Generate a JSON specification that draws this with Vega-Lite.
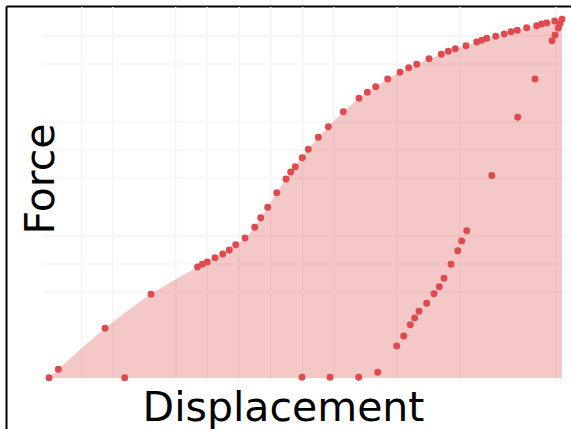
{
  "$schema": "https://vega.github.io/schema/vega-lite/v6.json",
  "width": 565,
  "height": 423,
  "autosize": {"type": "none"},
  "padding": {"left": 6, "top": 6, "right": 0, "bottom": 0},
  "background": "white",
  "config": {"view": {"stroke": null}, "font": "DejaVu Sans"},
  "datasets": {
    "vgrid": [{"d": 32.7}, {"d": 63.7}, {"d": 126.7}, {"d": 158}, {"d": 190.3}, {"d": 221.7}, {"d": 253.7}, {"d": 284.7}, {"d": 348}, {"d": 411}, {"d": 507}],
    "hgrid": [{"f": 342.3}, {"f": 314}, {"f": 256}, {"f": 228}, {"f": 200}, {"f": 142.3}, {"f": 114}, {"f": 86}],
    "pts": [
      {"path": "loading", "d": 0, "f": 0.3},
      {"path": "loading", "d": 9.3, "f": 8.7},
      {"path": "loading", "d": 56, "f": 49.7},
      {"path": "loading", "d": 102, "f": 83.7},
      {"path": "loading", "d": 148.5, "f": 111},
      {"path": "loading", "d": 153.3, "f": 113.7},
      {"path": "loading", "d": 158.3, "f": 116},
      {"path": "loading", "d": 166, "f": 120.3},
      {"path": "loading", "d": 173.7, "f": 124},
      {"path": "loading", "d": 180.3, "f": 128},
      {"path": "loading", "d": 186.7, "f": 133.3},
      {"path": "loading", "d": 196, "f": 140},
      {"path": "loading", "d": 205.7, "f": 150.7},
      {"path": "loading", "d": 211.7, "f": 160.3},
      {"path": "loading", "d": 218.7, "f": 170.7},
      {"path": "loading", "d": 227.7, "f": 185.3},
      {"path": "loading", "d": 237, "f": 199},
      {"path": "loading", "d": 241.7, "f": 206},
      {"path": "loading", "d": 246.3, "f": 211.3},
      {"path": "loading", "d": 253.3, "f": 220.3},
      {"path": "loading", "d": 259.3, "f": 228.7},
      {"path": "loading", "d": 269.3, "f": 240.7},
      {"path": "loading", "d": 279.3, "f": 251.3},
      {"path": "loading", "d": 294.3, "f": 266.3},
      {"path": "loading", "d": 310, "f": 279.7},
      {"path": "loading", "d": 318.3, "f": 285.7},
      {"path": "loading", "d": 326.7, "f": 291.3},
      {"path": "loading", "d": 338.7, "f": 299},
      {"path": "loading", "d": 351, "f": 305.7},
      {"path": "loading", "d": 359.7, "f": 310.3},
      {"path": "loading", "d": 367.7, "f": 313.7},
      {"path": "loading", "d": 380, "f": 319.3},
      {"path": "loading", "d": 392.3, "f": 323.7},
      {"path": "loading", "d": 399.3, "f": 326.7},
      {"path": "loading", "d": 406.3, "f": 329.3},
      {"path": "loading", "d": 417, "f": 332.3},
      {"path": "loading", "d": 427.7, "f": 336},
      {"path": "loading", "d": 432.7, "f": 337.7},
      {"path": "loading", "d": 437.7, "f": 339.7},
      {"path": "loading", "d": 446.7, "f": 341.7},
      {"path": "loading", "d": 455.3, "f": 344},
      {"path": "loading", "d": 462, "f": 346.3},
      {"path": "loading", "d": 468.3, "f": 347.7},
      {"path": "loading", "d": 477.7, "f": 350.3},
      {"path": "loading", "d": 487.7, "f": 352.3},
      {"path": "loading", "d": 492.7, "f": 354},
      {"path": "loading", "d": 497.7, "f": 355},
      {"path": "loading", "d": 505.7, "f": 357},
      {"path": "loading", "d": 513, "f": 358.7},
      {"path": "unloading", "d": 511, "f": 354.3},
      {"path": "unloading", "d": 509.3, "f": 350},
      {"path": "unloading", "d": 506, "f": 343},
      {"path": "unloading", "d": 503, "f": 337.3},
      {"path": "unloading", "d": 486, "f": 299},
      {"path": "unloading", "d": 468.7, "f": 260.7},
      {"path": "unloading", "d": 442.8, "f": 202.5},
      {"path": "unloading", "d": 417.7, "f": 147.3},
      {"path": "unloading", "d": 412.7, "f": 137},
      {"path": "unloading", "d": 408.7, "f": 127.3},
      {"path": "unloading", "d": 402, "f": 113.7},
      {"path": "unloading", "d": 395, "f": 99.7},
      {"path": "unloading", "d": 390.3, "f": 91.3},
      {"path": "unloading", "d": 385, "f": 84.3},
      {"path": "unloading", "d": 377.7, "f": 74.7},
      {"path": "unloading", "d": 370, "f": 66.7},
      {"path": "unloading", "d": 365.7, "f": 60},
      {"path": "unloading", "d": 361.3, "f": 53.3},
      {"path": "unloading", "d": 354.7, "f": 42},
      {"path": "unloading", "d": 347.7, "f": 32},
      {"path": "unloading", "d": 328.7, "f": 5.7},
      {"path": "unloading", "d": 309.7, "f": 0.7},
      {"path": "unloading", "d": 281, "f": 0.7},
      {"path": "unloading", "d": 253, "f": 0.7},
      {"path": "unloading", "d": 75.7, "f": 0.3}
    ]
  },
  "layer": [
    {
      "data": {"name": "vgrid"},
      "mark": {"type": "rule", "color": "#f4f4f4", "strokeWidth": 1.5},
      "encoding": {
        "x": {"field": "d", "type": "quantitative", "scale": {"domain": [-43, 522], "nice": false, "zero": false},
          "axis": {"orient": "top", "title": "Displacement", "labels": false, "ticks": false, "grid": false, "domain": true, "domainColor": "#000000", "domainWidth": 2, "titleFontSize": 41, "titleFont": "DejaVu Sans", "titleFontWeight": "normal", "titleColor": "#000000", "titleX": 277, "titleY": 414, "titleAlign": "center", "titleBaseline": "alphabetic", "titleAngle": 0}},
        "y": {"datum": 371, "type": "quantitative", "scale": {"domain": [-51, 372], "nice": false, "zero": false},
          "axis": {"orient": "left", "title": "Force", "labels": false, "ticks": false, "grid": false, "domain": true, "domainColor": "#000000", "domainWidth": 2, "titleFontSize": 41, "titleFont": "DejaVu Sans", "titleFontWeight": "normal", "titleColor": "#000000", "titleX": 47, "titleY": 172.5, "titleAngle": -90, "titleAlign": "center", "titleBaseline": "alphabetic"}},
        "y2": {"datum": -3}
      }
    },
    {
      "data": {"name": "hgrid"},
      "mark": {"type": "rule", "color": "#f4f4f4", "strokeWidth": 1.5},
      "encoding": {
        "y": {"field": "f", "type": "quantitative", "scale": {"domain": [-51, 372], "nice": false, "zero": false},
          "axis": {"orient": "left", "title": "Force", "labels": false, "ticks": false, "grid": false, "domain": true, "domainColor": "#000000", "domainWidth": 2, "titleFontSize": 41, "titleFont": "DejaVu Sans", "titleFontWeight": "normal", "titleColor": "#000000", "titleX": 47, "titleY": 172.5, "titleAngle": -90, "titleAlign": "center", "titleBaseline": "alphabetic"}},
        "x": {"datum": -6, "type": "quantitative", "scale": {"domain": [-43, 522], "nice": false, "zero": false},
          "axis": {"orient": "top", "title": "Displacement", "labels": false, "ticks": false, "grid": false, "domain": true, "domainColor": "#000000", "domainWidth": 2, "titleFontSize": 41, "titleFont": "DejaVu Sans", "titleFontWeight": "normal", "titleColor": "#000000", "titleX": 277, "titleY": 414, "titleAlign": "center", "titleBaseline": "alphabetic", "titleAngle": 0}},
        "x2": {"datum": 519}
      }
    },
    {
      "data": {"name": "pts"},
      "transform": [{"filter": "datum.path == 'loading'"}],
      "mark": {"type": "area", "color": "#e15759", "opacity": 0.33, "interpolate": "monotone"},
      "encoding": {
        "x": {"field": "d", "type": "quantitative", "sort": null, "scale": {"domain": [-43, 522], "nice": false, "zero": false},
          "axis": {"orient": "top", "title": "Displacement", "labels": false, "ticks": false, "grid": false, "domain": true, "domainColor": "#000000", "domainWidth": 2, "titleFontSize": 41, "titleFont": "DejaVu Sans", "titleFontWeight": "normal", "titleColor": "#000000", "titleX": 277, "titleY": 414, "titleAlign": "center", "titleBaseline": "alphabetic", "titleAngle": 0}},
        "y": {"field": "f", "type": "quantitative", "stack": null, "scale": {"domain": [-51, 372], "nice": false, "zero": false},
          "axis": {"orient": "left", "title": "Force", "labels": false, "ticks": false, "grid": false, "domain": true, "domainColor": "#000000", "domainWidth": 2, "titleFontSize": 41, "titleFont": "DejaVu Sans", "titleFontWeight": "normal", "titleColor": "#000000", "titleX": 47, "titleY": 172.5, "titleAngle": -90, "titleAlign": "center", "titleBaseline": "alphabetic"}},
        "y2": {"datum": 0}
      }
    },
    {
      "data": {"name": "pts"},
      "mark": {"type": "circle", "color": "#e04a4f", "opacity": 1, "size": 48},
      "encoding": {
        "x": {"field": "d", "type": "quantitative", "scale": {"domain": [-43, 522], "nice": false, "zero": false},
          "axis": {"orient": "top", "title": "Displacement", "labels": false, "ticks": false, "grid": false, "domain": true, "domainColor": "#000000", "domainWidth": 2, "titleFontSize": 41, "titleFont": "DejaVu Sans", "titleFontWeight": "normal", "titleColor": "#000000", "titleX": 277, "titleY": 414, "titleAlign": "center", "titleBaseline": "alphabetic", "titleAngle": 0}},
        "y": {"field": "f", "type": "quantitative", "scale": {"domain": [-51, 372], "nice": false, "zero": false},
          "axis": {"orient": "left", "title": "Force", "labels": false, "ticks": false, "grid": false, "domain": true, "domainColor": "#000000", "domainWidth": 2, "titleFontSize": 41, "titleFont": "DejaVu Sans", "titleFontWeight": "normal", "titleColor": "#000000", "titleX": 47, "titleY": 172.5, "titleAngle": -90, "titleAlign": "center", "titleBaseline": "alphabetic"}}
      }
    }
  ]
}
